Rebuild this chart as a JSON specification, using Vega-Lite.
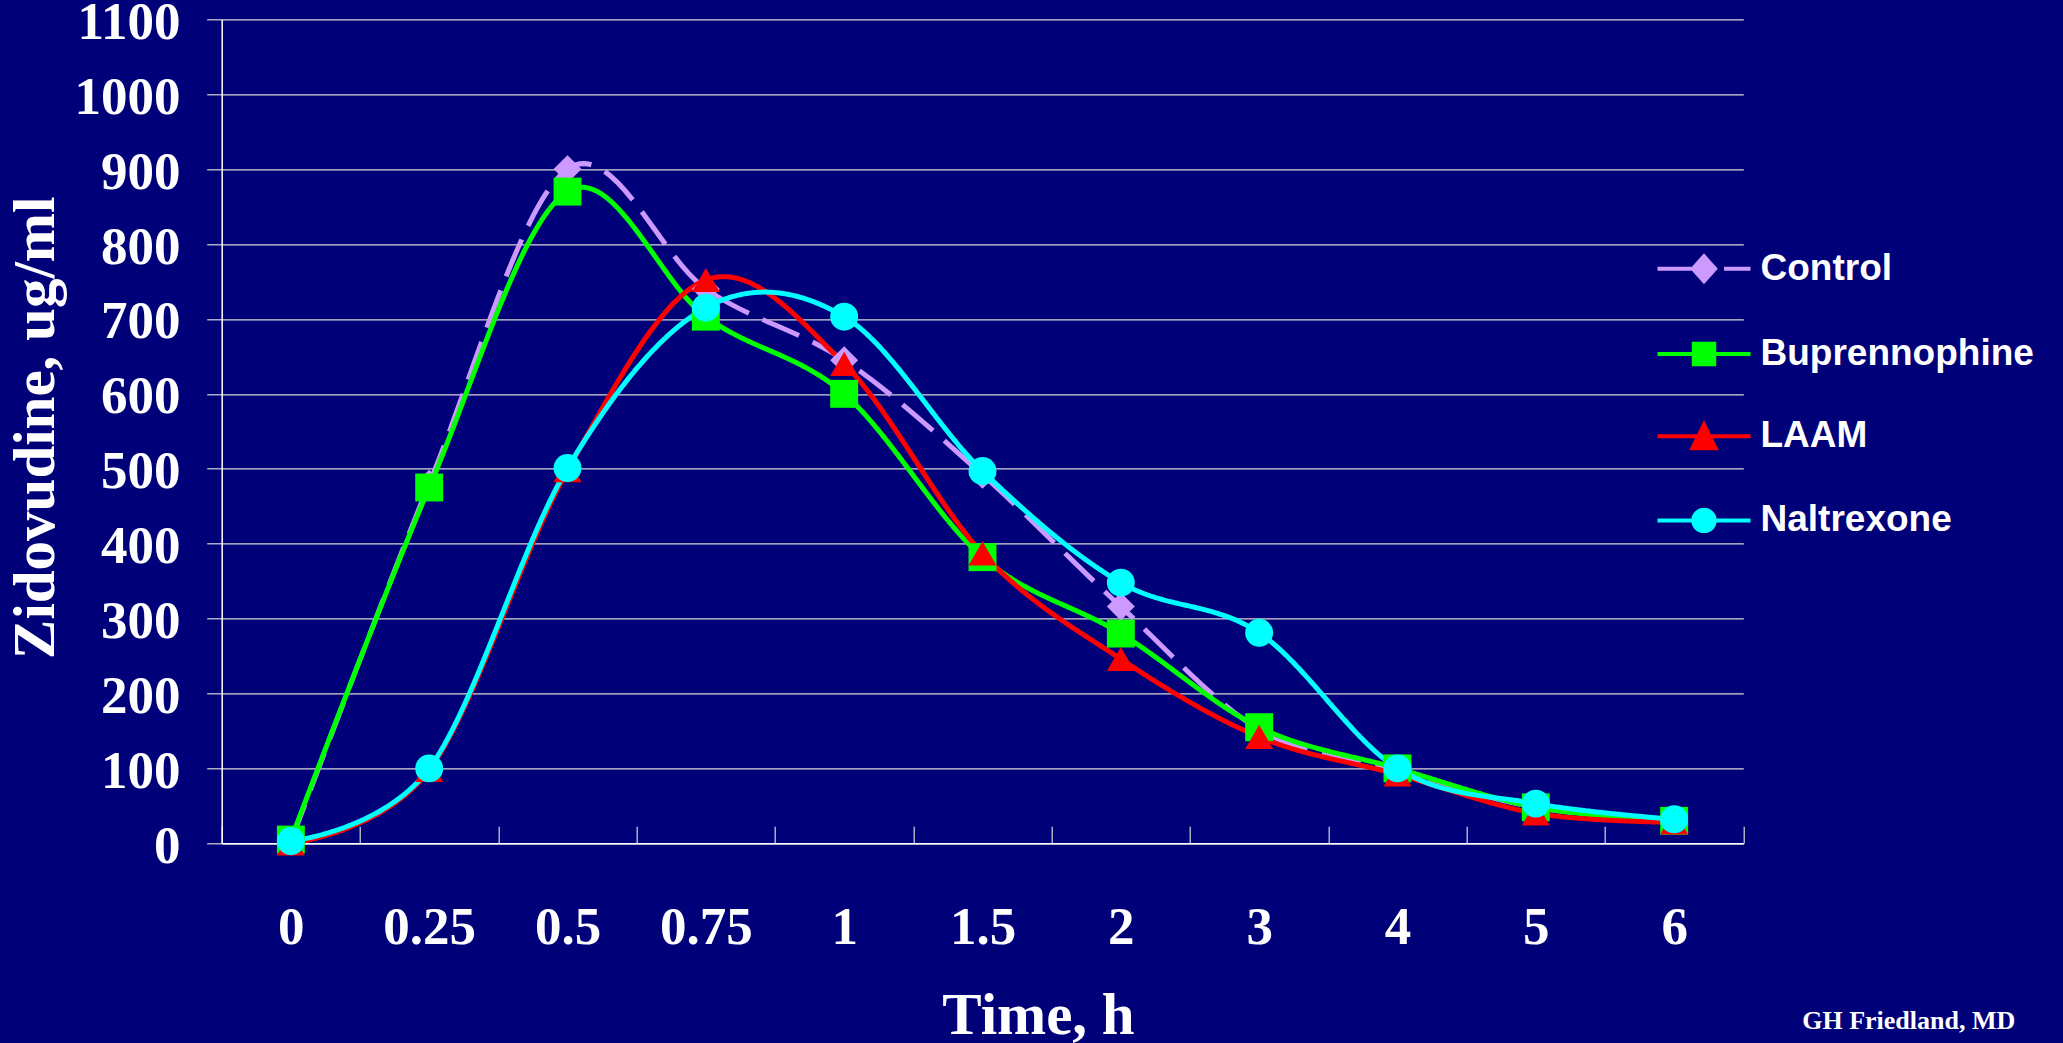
{
  "$schema": "https://vega.github.io/schema/vega-lite/v6.json",
  "width": 1521.6,
  "height": 824,
  "autosize": {"type": "none"},
  "padding": {"left": 221.7, "top": 19.3, "right": 319.7, "bottom": 199.7},
  "background": "#000079",
  "title": {
    "text": "GH Friedland, MD",
    "orient": "bottom",
    "anchor": "end",
    "frame": "group",
    "font": "Liberation Serif",
    "fontSize": 26,
    "fontWeight": "bold",
    "color": "white",
    "dx": 272,
    "offset": -37
  },
  "data": {
    "values": [
      {"t": "0", "series": "Control", "v": 2},
      {"t": "0.25", "series": "Control", "v": 480},
      {"t": "0.5", "series": "Control", "v": 900},
      {"t": "0.75", "series": "Control", "v": 740},
      {"t": "1", "series": "Control", "v": 645},
      {"t": "1.5", "series": "Control", "v": 492},
      {"t": "2", "series": "Control", "v": 316},
      {"t": "3", "series": "Control", "v": 152},
      {"t": "4", "series": "Control", "v": 96},
      {"t": "5", "series": "Control", "v": 48},
      {"t": "6", "series": "Control", "v": 30},
      {"t": "0", "series": "Buprennophine", "v": 5},
      {"t": "0.25", "series": "Buprennophine", "v": 475},
      {"t": "0.5", "series": "Buprennophine", "v": 870},
      {"t": "0.75", "series": "Buprennophine", "v": 703},
      {"t": "1", "series": "Buprennophine", "v": 600},
      {"t": "1.5", "series": "Buprennophine", "v": 382},
      {"t": "2", "series": "Buprennophine", "v": 280},
      {"t": "3", "series": "Buprennophine", "v": 155},
      {"t": "4", "series": "Buprennophine", "v": 100},
      {"t": "5", "series": "Buprennophine", "v": 48},
      {"t": "6", "series": "Buprennophine", "v": 30},
      {"t": "0", "series": "LAAM", "v": 0},
      {"t": "0.25", "series": "LAAM", "v": 98},
      {"t": "0.5", "series": "LAAM", "v": 498},
      {"t": "0.75", "series": "LAAM", "v": 752},
      {"t": "1", "series": "LAAM", "v": 640},
      {"t": "1.5", "series": "LAAM", "v": 387},
      {"t": "2", "series": "LAAM", "v": 246},
      {"t": "3", "series": "LAAM", "v": 142},
      {"t": "4", "series": "LAAM", "v": 92},
      {"t": "5", "series": "LAAM", "v": 40},
      {"t": "6", "series": "LAAM", "v": 28},
      {"t": "0", "series": "Naltrexone", "v": 3},
      {"t": "0.25", "series": "Naltrexone", "v": 100},
      {"t": "0.5", "series": "Naltrexone", "v": 501},
      {"t": "0.75", "series": "Naltrexone", "v": 715},
      {"t": "1", "series": "Naltrexone", "v": 703},
      {"t": "1.5", "series": "Naltrexone", "v": 497},
      {"t": "2", "series": "Naltrexone", "v": 348},
      {"t": "3", "series": "Naltrexone", "v": 281},
      {"t": "4", "series": "Naltrexone", "v": 100},
      {"t": "5", "series": "Naltrexone", "v": 53},
      {"t": "6", "series": "Naltrexone", "v": 32}
    ]
  },
  "encoding": {
    "x": {
      "field": "t",
      "type": "ordinal",
      "sort": ["0", "0.25", "0.5", "0.75", "1", "1.5", "2", "3", "4", "5", "6"],
      "scale": {"type": "band", "paddingInner": 0, "paddingOuter": 0},
      "axis": {
        "title": "Time, h",
        "titleFont": "Liberation Serif",
        "titleFontSize": 59,
        "titleFontWeight": "bold",
        "titleColor": "white",
        "titleX": 816.3,
        "titleY": 143,
        "labelFont": "Liberation Serif",
        "labelFontSize": 53,
        "labelFontWeight": "bold",
        "labelColor": "white",
        "labelAngle": 0,
        "labelPadding": 75,
        "tickBand": "extent",
        "tickSize": -17,
        "tickColor": "#d8d8d8",
        "tickWidth": 1.2,
        "domainColor": "white",
        "domainWidth": 1.5,
        "grid": false
      }
    },
    "y": {
      "field": "v",
      "type": "quantitative",
      "scale": {"domain": [0, 1100], "nice": false},
      "axis": {
        "title": "Zidovudine, ug/ml",
        "titleFont": "Liberation Serif",
        "titleFontSize": 59,
        "titleFontWeight": "bold",
        "titleColor": "white",
        "titleX": -156,
        "titleY": 408,
        "values": [0, 100, 200, 300, 400, 500, 600, 700, 800, 900, 1000, 1100],
        "format": "d",
        "labelFont": "Liberation Serif",
        "labelFontSize": 53,
        "labelFontWeight": "bold",
        "labelColor": "white",
        "labelPadding": 26.7,
        "labelOffset": 3,
        "labelFlush": false,
        "tickSize": 15,
        "tickColor": "#d8d8d8",
        "tickWidth": 1.2,
        "grid": true,
        "gridColor": "#d8d8d8",
        "gridWidth": 1.2,
        "gridOpacity": 1,
        "domainColor": "white",
        "domainWidth": 1.5
      }
    },
    "color": {
      "field": "series",
      "type": "nominal",
      "sort": ["Control", "Buprennophine", "LAAM", "Naltrexone"],
      "scale": {
        "domain": ["Control", "Buprennophine", "LAAM", "Naltrexone"],
        "range": ["#CC99FF", "#00FF00", "#FF0000", "#00FFFF"]
      },
      "legend": {
        "title": null,
        "orient": "none",
        "legendX": 1433.8,
        "legendY": 201,
        "padding": 0,
        "symbolSize": 8649,
        "symbolStrokeWidth": 4,
        "symbolOpacity": 1,
        "labelFont": "Liberation Sans",
        "labelFontSize": 37,
        "labelFontWeight": "bold",
        "labelColor": "white",
        "labelLimit": 400,
        "labelOffset": 8,
        "rowPadding": 15.2,
        "encode": {
          "symbols": {
            "update": {
              "shape": {"signal": "datum.value === 'Control' ? 'M-1,0H-0.12M0.43,0H1M0,-0.27L0.24,0L0,0.27L-0.24,0Z' : datum.value === 'Buprennophine' ? 'M-1,0H1M-0.22,-0.22H0.22V0.22H-0.22Z' : datum.value === 'LAAM' ? 'M-1,0H1M0,-0.25L0.25,0.26H-0.25Z' : 'M-1,0H1M0.23,0A0.23,0.23,0,1,1,-0.23,0A0.23,0.23,0,1,1,0.23,0Z'"},
              "fill": {"scale": "color", "field": "value"},
              "stroke": {"scale": "color", "field": "value"},
              "strokeWidth": {"value": 4},
              "opacity": {"value": 1}
            }
          }
        }
      }
    }
  },
  "layer": [
    {
      "mark": {"type": "line", "interpolate": "cardinal", "strokeWidth": 5},
      "encoding": {
        "strokeDash": {
          "field": "series",
          "type": "nominal",
          "scale": {
            "domain": ["Naltrexone", "LAAM", "Buprennophine", "Control"],
            "range": [[1, 0], [1, 0], [1, 0], [40, 15]]
          },
          "legend": null
        }
      }
    },
    {
      "mark": {"type": "point", "filled": true, "opacity": 1, "size": 780},
      "encoding": {
        "shape": {
          "field": "series",
          "type": "nominal",
          "scale": {
            "domain": ["Naltrexone", "LAAM", "Buprennophine", "Control"],
            "range": ["circle", "triangle-up", "square", "diamond"]
          },
          "legend": null
        }
      }
    }
  ],
  "config": {"view": {"stroke": null}}
}
